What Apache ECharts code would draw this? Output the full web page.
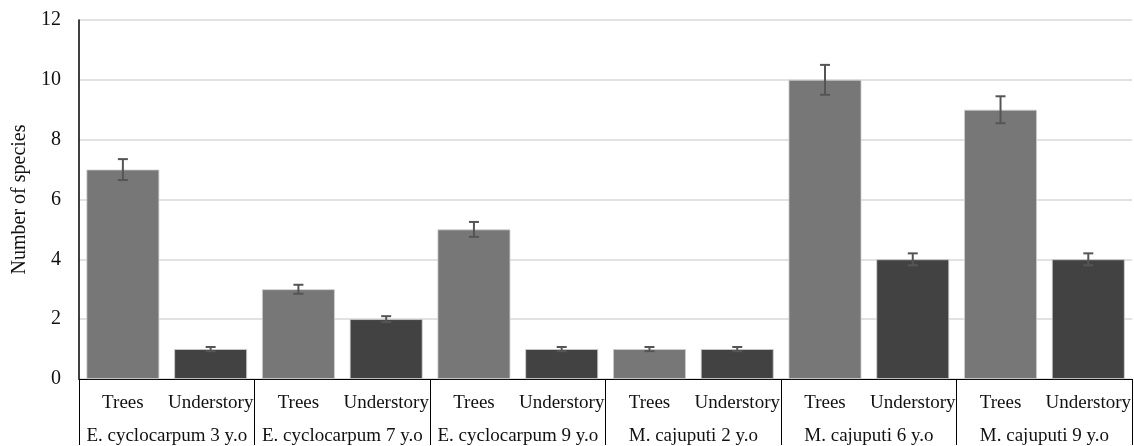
<!DOCTYPE html>
<html><head><meta charset="utf-8">
<script src="https://cdn.jsdelivr.net/npm/echarts@6/dist/echarts.min.js"></script>
<style>html,body{margin:0;padding:0;background:#fff}#c{width:1134px;height:446px}</style>
</head><body><div id="c"></div>
<script>
var groups = ['E. cyclocarpum 3 y.o','E. cyclocarpum 7 y.o','E. cyclocarpum 9 y.o','M. cajuputi 2 y.o','M. cajuputi 6 y.o','M. cajuputi 9 y.o'];
var subCats = ['Trees','Understory'];
var treesValues = [7, 3, 5, 1, 10, 9];
var understoryValues = [1, 2, 1, 1, 4, 4];
var treesErr = [0.35, 0.15, 0.25, 0.07, 0.5, 0.45];
var understoryErr = [0.07, 0.1, 0.07, 0.07, 0.2, 0.2];
var yTicks = {min: 0, max: 12, interval: 2};

var cats = [], data = [], errs = [];
var colors = ['#777777', '#424242'];
groups.forEach(function (g, i) {
  cats.push(subCats[0], subCats[1]);
  data.push({value: treesValues[i], itemStyle: {color: colors[0]}});
  data.push({value: understoryValues[i], itemStyle: {color: colors[1]}});
  errs.push([cats.length - 2, treesValues[i], treesErr[i]]);
  errs.push([cats.length - 1, understoryValues[i], understoryErr[i]]);
});

var font = 'Liberation Serif';
var chart = echarts.init(document.getElementById('c'));
chart.setOption({
  animation: false,
  grid: {left: 79, right: 1, top: 20, bottom: 66, containLabel: false},
  xAxis: [{
    type: 'category', data: cats.map(function (c, i) { return i; }),
    axisLine: {show: true, lineStyle: {color: '#000', width: 1.2}},
    axisTick: {show: false},
    axisLabel: {interval: 0, margin: 15, color: '#111', fontFamily: font, fontSize: 19,
      formatter: function (v) { return cats[+v]; }}
  }, {
    type: 'category', data: groups, position: 'bottom',
    axisLine: {show: false},
    axisTick: {show: true, interval: 0, length: 66, inside: false, lineStyle: {color: '#000', width: 1}},
    axisLabel: {interval: 0, margin: 48, color: '#111', fontFamily: font, fontSize: 19}
  }],
  yAxis: {
    type: 'value', min: yTicks.min, max: yTicks.max, interval: yTicks.interval,
    name: 'Number of species', nameLocation: 'middle', nameGap: 47,
    nameTextStyle: {color: '#111', fontFamily: font, fontSize: 20},
    axisLine: {show: true, lineStyle: {color: '#000', width: 1.5}},
    axisTick: {show: false},
    axisLabel: {color: '#111', fontFamily: font, fontSize: 20, margin: 18},
    splitLine: {lineStyle: {color: '#d9d9d9', width: 1.5}}
  },
  series: [{
    type: 'bar', data: data, barWidth: '83%', xAxisIndex: 0,
    itemStyle: {borderColor: '#cfcfcf', borderWidth: 0.8}
  }, {
    type: 'custom', xAxisIndex: 0, data: errs, z: 10,
    renderItem: function (params, api) {
      var x = api.value(0), v = api.value(1), e = api.value(2);
      var top = api.coord([x, v + e]), bot = api.coord([x, v - e]);
      var hw = 5;
      var st = {stroke: '#555', lineWidth: 2};
      return {type: 'group', children: [
        {type: 'line', shape: {x1: top[0], y1: top[1], x2: bot[0], y2: bot[1]}, style: st},
        {type: 'line', shape: {x1: top[0] - hw, y1: top[1], x2: top[0] + hw, y2: top[1]}, style: st},
        {type: 'line', shape: {x1: bot[0] - hw, y1: bot[1], x2: bot[0] + hw, y2: bot[1]}, style: st}
      ]};
    }
  }]
});
</script></body></html>
